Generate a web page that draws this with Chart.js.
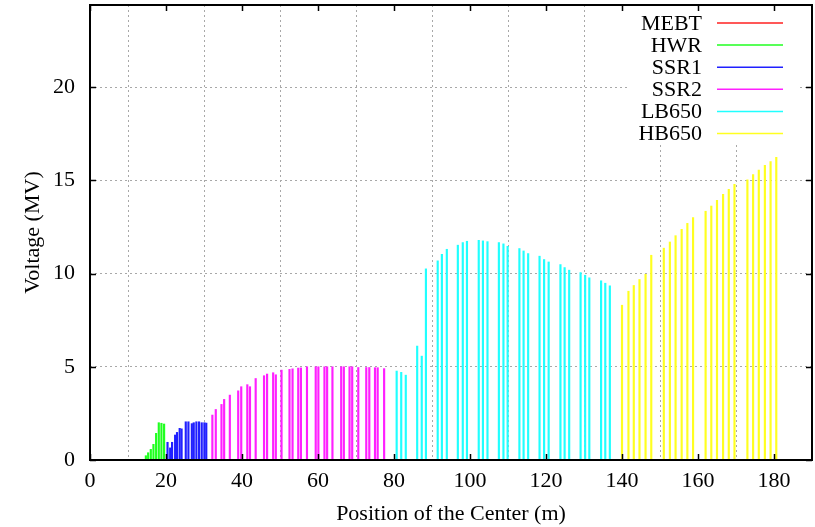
<!DOCTYPE html>
<html>
<head>
<meta charset="utf-8">
<script src="https://cdn.jsdelivr.net/npm/chart.js@4/dist/chart.umd.min.js"></script>
<style>
  body { margin: 0; background: #fff; }
  #wrap { width: 815px; height: 527px; }
</style>
</head>
<body>
<div id="wrap"><canvas id="voltChart" width="815" height="527"></canvas></div>
<script>
// cavity positions (m) and voltages (MV)
// MEBT bunchers are too small to show above the axis line
const mebtPos = [];
const mebtVolt = [];

const hwrPos = [14.7, 15.3, 16.0, 16.7, 17.4, 18.1, 18.8, 19.5];
const hwrVolt = [0.23, 0.39, 0.57, 0.84, 1.43, 2.0, 1.97, 1.93];

const ssr1Pos = [20.4, 21.1, 21.6, 22.4, 22.9, 23.6, 24.1, 25.2, 25.9, 26.8, 27.3, 28.0, 28.7, 29.4, 30.1, 30.6];
const ssr1Volt = [0.95, 0.65, 0.95, 1.34, 1.48, 1.70, 1.67, 2.05, 2.05, 1.95, 2.0, 2.05, 2.05, 2.0, 2.0, 1.98];

const ssr2Pos = [32.2, 33.1, 34.6, 35.3, 36.8, 39.0, 39.8, 41.4, 42.1, 43.6, 45.8, 46.6, 48.2, 48.9, 50.4,
                 52.5, 53.3, 54.8, 55.5, 57.1, 59.4, 60.1, 61.7, 62.4, 63.8, 66.1, 66.8, 68.3, 69.0, 70.6,
                 72.7, 73.5, 75.0, 75.7, 77.4];
const ssr2Volt = [2.41, 2.71, 2.98, 3.25, 3.48, 3.71, 3.93, 4.04, 3.93, 4.37, 4.52, 4.61, 4.68, 4.57, 4.82,
                  4.86, 4.89, 4.93, 4.94, 5.0, 5.0, 5.0, 5.0, 5.0, 5.0, 5.0, 5.0, 5.0, 5.0, 4.96,
                  4.96, 4.96, 4.95, 4.95, 4.9];

const lb650Pos = [80.7, 81.9, 83.1, 86.1, 87.3, 88.4, 91.5, 92.6, 93.9, 96.8, 98.1, 99.2, 102.3, 103.4, 104.6,
                  107.6, 108.8, 109.9, 113.0, 114.1, 115.3, 118.3, 119.5, 120.7, 123.8, 124.9, 126.1,
                  129.1, 130.3, 131.4, 134.5, 135.6, 136.8];
const lb650Volt = [4.77, 4.70, 4.55, 6.11, 5.57, 10.25, 10.68, 11.03, 11.3, 11.52, 11.66, 11.73, 11.78, 11.75, 11.71,
                   11.66, 11.59, 11.46, 11.34, 11.21, 11.07, 10.93, 10.75, 10.62, 10.48, 10.32, 10.18,
                   10.05, 9.91, 9.77, 9.61, 9.48, 9.34];

const hb650Pos = [140.0, 141.7, 143.1, 144.6, 146.2, 147.7, 151.0, 152.6, 154.1, 155.7, 157.2, 158.7,
                  162.0, 163.5, 165.0, 166.6, 168.1, 169.6, 173.0, 174.5, 176.0, 177.6, 179.1, 180.6];
const hb650Volt = [8.30, 9.05, 9.36, 9.68, 9.96, 10.98, 11.36, 11.69, 12.03, 12.37, 12.69, 13.0,
                   13.34, 13.62, 13.93, 14.25, 14.52, 14.78, 15.03, 15.3, 15.55, 15.8, 16.0, 16.23];

const sectionNames = ['MEBT', 'HWR', 'SSR1', 'SSR2', 'LB650', 'HB650'];
const sectionColors = ['#ff2020', '#20ff20', '#2020ff', '#ff20ff', '#20ffff', '#ffff20'];

const xTicks = [0, 20, 40, 60, 80, 100, 120, 140, 160, 180];
const yTicks = [0, 5, 10, 15, 20];

const FONT = "'Liberation Serif', 'Times New Roman', serif";

function toPoints(pos, volt) {
    return pos.map((p, i) => ({ x: p, y: volt[i] }));
}

const sections = [
    [mebtPos, mebtVolt], [hwrPos, hwrVolt], [ssr1Pos, ssr1Volt],
    [ssr2Pos, ssr2Volt], [lb650Pos, lb650Volt], [hb650Pos, hb650Volt]
];

const datasets = sections.map((s, i) => ({
    label: sectionNames[i],
    data: toPoints(s[0], s[1]),
    backgroundColor: sectionColors[i],
    borderWidth: 0,
    barThickness: 1.5,
    grouped: false
}));

// gnuplot-like frame, inward ticks and the key box
const framePlugin = {
    id: 'frame',
    beforeDatasetsDraw(chart) {
        const ctx = chart.ctx;
        // key area hides the grid behind it
        ctx.save();
        ctx.fillStyle = '#fff';
        ctx.fillRect(630, 6, 168, 139);
        ctx.restore();
    },
    afterDraw(chart) {
        const ctx = chart.ctx;
        const a = chart.chartArea;
        const xs = chart.scales.x, ys = chart.scales.y;
        ctx.save();
        ctx.strokeStyle = '#000';
        ctx.lineWidth = 2;
        ctx.strokeRect(a.left, a.top, a.right - a.left, a.bottom - a.top);

        ctx.lineWidth = 1.5;
        ctx.beginPath();
        xTicks.forEach(v => {
            const px = Math.round(xs.getPixelForValue(v)) + 0.5;
            ctx.moveTo(px, a.bottom); ctx.lineTo(px, a.bottom - 6);
            ctx.moveTo(px, a.top); ctx.lineTo(px, a.top + 6);
        });
        yTicks.forEach(v => {
            const py = Math.round(ys.getPixelForValue(v)) + 0.5;
            ctx.moveTo(a.left, py); ctx.lineTo(a.left + 6, py);
            ctx.moveTo(a.right, py); ctx.lineTo(a.right - 6, py);
        });
        ctx.stroke();

        // key
        ctx.font = '22px ' + FONT;
        ctx.textAlign = 'right';
        ctx.textBaseline = 'middle';
        chart.data.datasets.forEach((ds, i) => {
            const y = 23 + i * 22.1;
            ctx.fillStyle = '#000';
            ctx.fillText(ds.label, 702, y + 1);
            ctx.strokeStyle = ds.backgroundColor;
            ctx.lineWidth = 1.5;
            ctx.beginPath();
            ctx.moveTo(717, y); ctx.lineTo(783, y);
            ctx.stroke();
        });
        ctx.restore();
    }
};

new Chart(document.getElementById('voltChart'), {
    type: 'bar',
    data: { datasets: datasets },
    options: {
        responsive: false,
        animation: false,
        layout: { padding: { left: 0, right: 3, top: 5, bottom: 0 } },
        plugins: {
            legend: { display: false },
            tooltip: { enabled: false }
        },
        scales: {
            x: {
                type: 'linear',
                min: 0,
                max: 190,
                offset: false,
                afterBuildTicks: s => { s.ticks = xTicks.map(v => ({ value: v })); },
                afterFit: s => { s.height = 67; s.paddingLeft = 0; s.paddingRight = 0; },
                grid: { color: '#a8a8a8', lineWidth: 1, drawTicks: false },
                border: { display: false, dash: [2, 3] },
                ticks: {
                    color: '#000',
                    font: { family: FONT, size: 22 },
                    padding: 8,
                    maxRotation: 0
                },
                title: {
                    display: true,
                    text: 'Position of the Center (m)',
                    color: '#000',
                    font: { family: FONT, size: 22 },
                    padding: { top: 0, bottom: 0 }
                }
            },
            y: {
                min: 0,
                max: 24.4,
                afterBuildTicks: s => { s.ticks = yTicks.map(v => ({ value: v })); },
                afterFit: s => { s.width = 90; s.paddingTop = 0; s.paddingBottom = 0; },
                grid: { color: '#a8a8a8', lineWidth: 1, drawTicks: false },
                border: { display: false, dash: [2, 3] },
                ticks: {
                    color: '#000',
                    font: { family: FONT, size: 22 },
                    padding: 15
                },
                title: {
                    display: true,
                    text: 'Voltage (MV)',
                    color: '#000',
                    font: { family: FONT, size: 22 },
                    padding: { top: 20, bottom: 0 }
                }
            }
        }
    },
    plugins: [framePlugin]
});
</script>
</body>
</html>
